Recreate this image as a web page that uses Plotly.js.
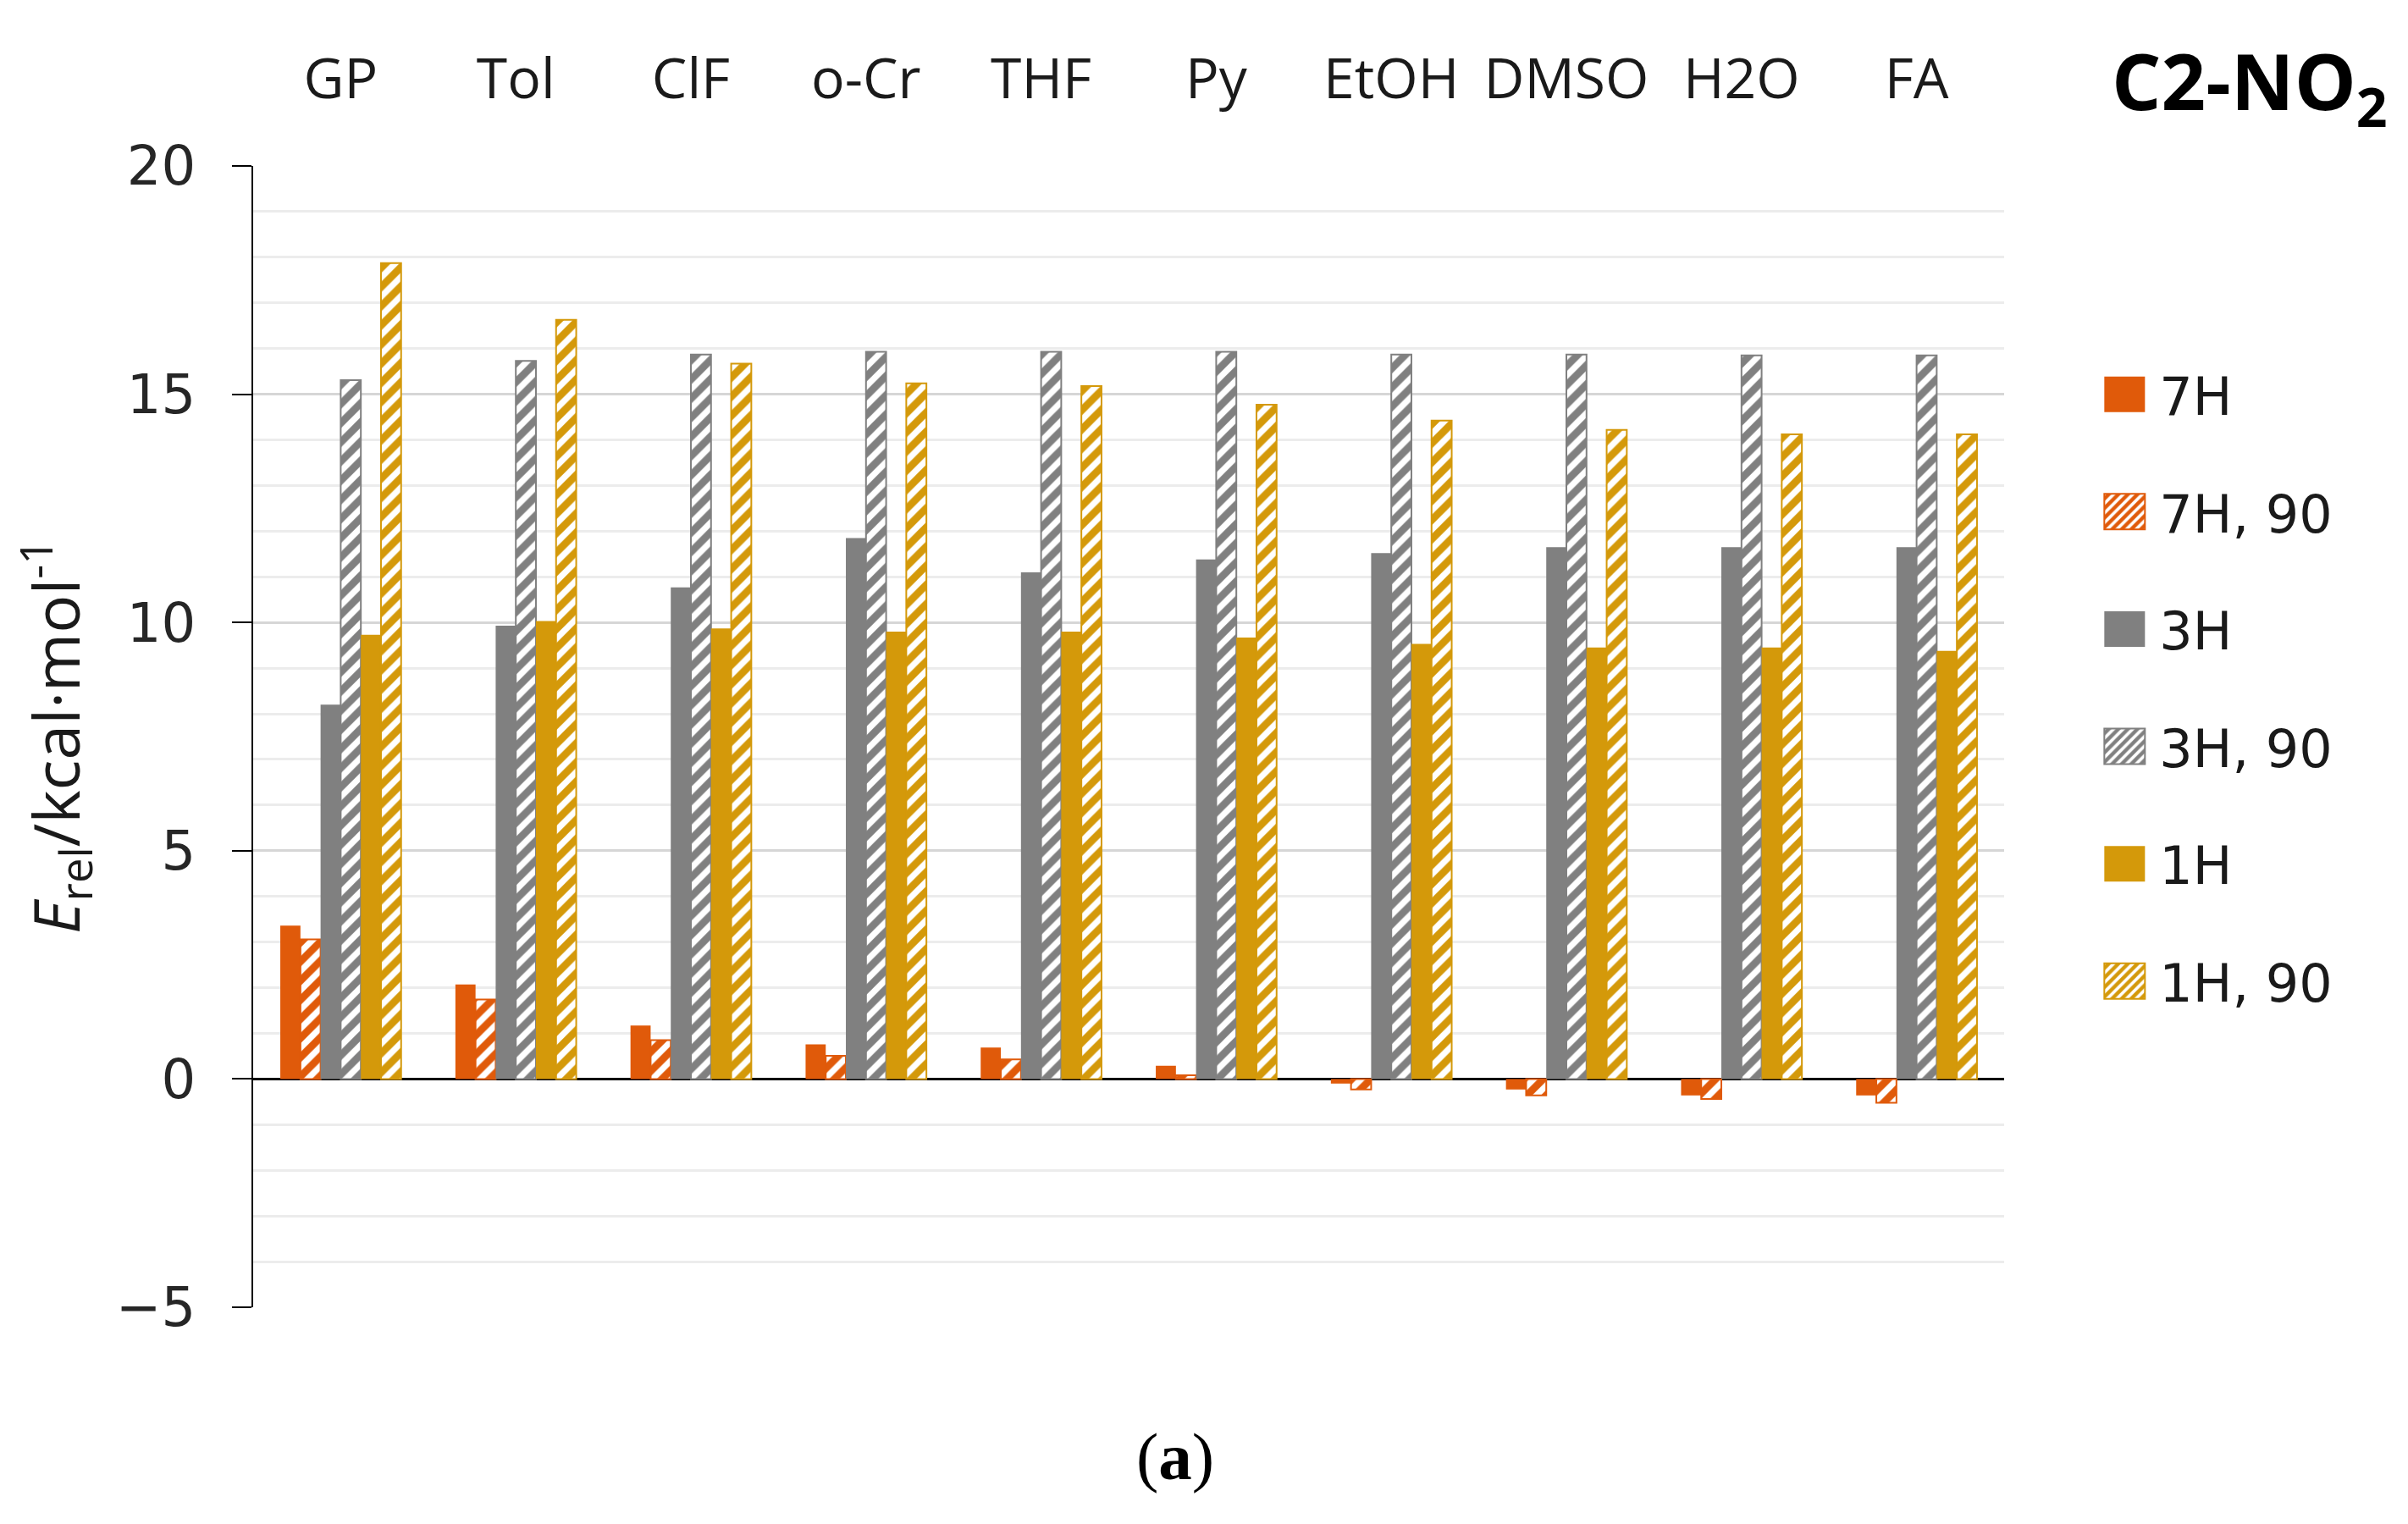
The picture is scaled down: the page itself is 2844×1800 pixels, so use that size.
<!DOCTYPE html>
<html>
<head>
<meta charset="utf-8">
<script src="https://cdn.plot.ly/plotly-3.0.1.min.js"></script>
<style>
html,body{margin:0;padding:0;background:#fff;}
#chart{width:2844px;height:1800px;}
</style>
</head>
<body>
<div id="chart"></div>
<script>
// ---- data ----
const categories = ['GP','Tol','ClF','o-Cr','THF','Py','EtOH','DMSO','H2O','FA'];
const seriesNames = ['7H','7H, 90','3H','3H, 90','1H','1H, 90'];
const h7    = [3.36, 2.07, 1.17, 0.76, 0.69, 0.29, -0.10, -0.23, -0.36, -0.36];
const h7_90 = [3.06, 1.74, 0.85, 0.51, 0.43, 0.08, -0.23, -0.36, -0.44, -0.52];
const h3    = [8.20, 9.93, 10.77, 11.85, 11.10, 11.38, 11.52, 11.65, 11.65, 11.65];
const h3_90 = [15.31, 15.73, 15.87, 15.93, 15.93, 15.93, 15.87, 15.87, 15.85, 15.85];
const h1    = [9.73, 10.03, 9.87, 9.80, 9.80, 9.67, 9.53, 9.45, 9.45, 9.38];
const h1_90 = [17.87, 16.63, 15.67, 15.24, 15.18, 14.77, 14.42, 14.22, 14.12, 14.12];
const yTickVals = [-5, 0, 5, 10, 15, 20];

// ---- styles ----
const ORANGE = '#E05A0A', GRAY = '#808080', GOLD = '#D4990A';
const seriesValues = [h7, h7_90, h3, h3_90, h1, h1_90];
const seriesColors = [ORANGE, ORANGE, GRAY, GRAY, GOLD, GOLD];
const hatched = [false, true, false, true, false, true];

const traces = seriesValues.map((vals, i) => {
  const c = seriesColors[i];
  const marker = hatched[i]
    ? {color: c, line: {color: c, width: 2},
       pattern: {shape: '/', fgcolor: c, bgcolor: 'white', fgopacity: 1, size: 16, solidity: 0.55, fillmode: 'replace'}}
    : {color: c, line: {color: c, width: 0}};
  return {type: 'bar', name: seriesNames[i], x: categories, y: vals,
          marker: marker, legendgroup: 'g' + i};
});

const layout = {
  width: 2844, height: 1800,
  paper_bgcolor: '#fff', plot_bgcolor: '#fff',
  margin: {l: 299, r: 477, t: 196, b: 256},
  barmode: 'group', bargap: 0.31, bargroupgap: 0,
  font: {family: 'Open Sans, sans-serif', color: '#1a1a1a'},
  title: {text: '<b>C2-NO<sub>2</sub></b>', xref: 'container', yref: 'container',
          x: 2494/2844, xanchor: 'left', y: 1 - 98/1800, yanchor: 'middle',
          font: {family: 'Open Sans, sans-serif', size: 92, color: '#000'}},
  xaxis: {side: 'top', showline: false, ticks: '', showgrid: false, zeroline: false,
          tickfont: {size: 66, color: '#1a1a1a'}, ticklabelstandoff: 66, fixedrange: true},
  yaxis: {range: [-5, 20], tickvals: yTickVals, showline: true, linecolor: '#000', linewidth: 2,
          ticks: 'outside', ticklen: 23, tickwidth: 2, tickcolor: '#000',
          tickfont: {family: 'DejaVu Sans, sans-serif', size: 64, color: '#262626'},
          ticklabelstandoff: 30,
          showgrid: true, gridcolor: '#d6d6d6', gridwidth: 3,
          minor: {dtick: 1, showgrid: true, gridcolor: '#ececec', gridwidth: 3, ticks: ''},
          zeroline: true, zerolinecolor: '#000', zerolinewidth: 2.5,
          title: {text: '<i>E</i><sub>rel</sub>/kcal·mol<sup>-1</sup>', standoff: 18,
                  font: {size: 75, color: '#1a1a1a'}}},
  showlegend: true,
  legend: {x: 1.0548, xanchor: 'left', y: 0.8346, yanchor: 'top', xref: 'paper', yref: 'paper',
           traceorder: 'grouped', tracegroupgap: 55, itemwidth: 60,
           font: {family: 'DejaVu Sans, sans-serif', size: 62, color: '#1a1a1a'},
           bgcolor: 'rgba(0,0,0,0)'},
  annotations: [{text: '(<b>a</b>)', xref: 'paper', yref: 'paper', x: (1388-299)/2068, y: -0.131,
                 xanchor: 'center', yanchor: 'middle', showarrow: false,
                 font: {family: 'Liberation Serif, serif', size: 79, color: '#000'}}]
};

Plotly.newPlot('chart', traces, layout, {staticPlot: true}).then(gd => {
  gd.querySelectorAll('.legend .legendpoints path').forEach(p => {
    p.setAttribute('d', 'M-30,-21H18V21H-30Z');
  });
});
</script>
</body>
</html>
